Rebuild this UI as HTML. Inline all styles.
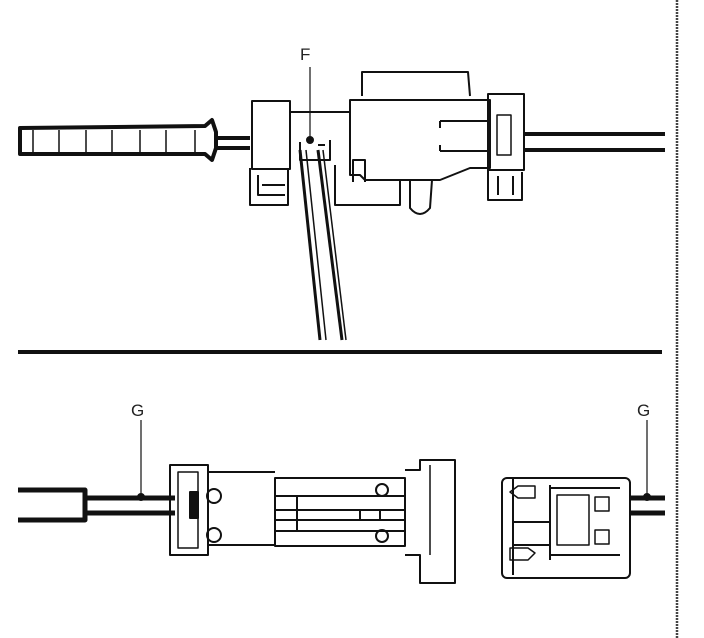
<!DOCTYPE html>
<html><head><meta charset="utf-8"><style>
html,body{margin:0;padding:0;background:#fff;}
svg{display:block}
text{font-family:"Liberation Sans",sans-serif;}
</style></head><body>
<svg width="704" height="638" viewBox="0 0 704 638" xmlns="http://www.w3.org/2000/svg">
<g fill="none" stroke="#111" stroke-width="2" stroke-linejoin="round">
<line x1="677" y1="0" x2="677" y2="638" stroke="#444" stroke-width="2.5" stroke-dasharray="2 1"/>
<line x1="18" y1="352" x2="662" y2="352" stroke-width="4"/>

<path d="M20 128 L205 126 L212 120 L216 132 L216 148 L212 160 L205 154 L20 154 Z" stroke-width="4"/>
<g stroke-width="1.5">
<line x1="33" y1="130" x2="33" y2="152"/><line x1="59" y1="130" x2="59" y2="152"/>
<line x1="86" y1="130" x2="86" y2="152"/><line x1="112" y1="130" x2="112" y2="152"/>
<line x1="140" y1="130" x2="140" y2="152"/><line x1="166" y1="130" x2="166" y2="152"/>
<line x1="195" y1="130" x2="195" y2="152"/>
</g>
<line x1="216" y1="138" x2="250" y2="138" stroke-width="4"/>
<line x1="216" y1="148" x2="250" y2="148" stroke-width="4"/>
<rect x="252" y="101" width="38" height="68"/>
<path d="M250 168 L250 205 L288 205 L288 170 M258 175 L258 195 L285 195 M262 185 L285 185"/>
<text x="300" y="60" font-size="17" fill="#222" stroke="none">F</text>
<line x1="310" y1="67" x2="310" y2="140" stroke-width="1.2"/>
<circle cx="310" cy="140" r="3" fill="#111"/>
<path d="M290 112 L350 112 M300 142 L300 160 L330 160 L330 140 M318 145 L325 145"/>
<path d="M362 96 L362 72 L468 72 L470 96"/>
<path d="M350 100 L490 100 L490 168 L470 168 L440 180 L365 180 L360 175 L350 175 Z"/>
<path d="M440 121 L490 121 M440 151 L490 151 M440 121 L440 128 M440 145 L440 151"/>
<path d="M335 165 L335 205 L400 205 L400 180 M365 182 L365 160 L353 160 L353 182"/>
<path d="M410 180 L410 208 Q420 220 430 208 L432 180"/>
<rect x="488" y="94" width="36" height="76"/>
<path d="M488 170 L488 200 L522 200 L522 172 M498 176 L498 195 M513 176 L513 195"/>
<rect x="497" y="115" width="14" height="40" stroke-width="1.5"/>
<line x1="524" y1="134" x2="665" y2="134" stroke-width="4"/>
<line x1="524" y1="150" x2="665" y2="150" stroke-width="4"/>
<path d="M300 150 L320 340" stroke-width="3"/>
<path d="M306 150 L326 340" stroke-width="1.5"/>
<path d="M318 150 L342 340" stroke-width="3"/>
<path d="M323 150 L346 340" stroke-width="1.5"/>

<text x="131" y="416" font-size="17" fill="#222" stroke="none">G</text>
<line x1="141" y1="420" x2="141" y2="496" stroke-width="1.2"/>
<circle cx="141" cy="497" r="3" fill="#111"/>
<path d="M18 490 L85 490 L85 520 L18 520" stroke-width="5"/>
<line x1="85" y1="498" x2="175" y2="498" stroke-width="5"/>
<line x1="85" y1="513" x2="175" y2="513" stroke-width="5"/>
<rect x="170" y="465" width="38" height="90"/>
<rect x="178" y="472" width="20" height="76" stroke-width="1.5"/>
<rect x="190" y="492" width="8" height="26" fill="#111"/>
<path d="M208 472 L275 472 M208 545 L275 545"/>
<circle cx="214" cy="496" r="7"/>
<circle cx="214" cy="535" r="7"/>
<rect x="275" y="478" width="130" height="68"/>
<path d="M275 496 L405 496 M275 510 L405 510 M275 520 L405 520 M275 531 L405 531 M297 496 L297 531 M360 510 L360 520 M380 510 L380 520"/>
<circle cx="382" cy="490" r="6"/>
<circle cx="382" cy="536" r="6"/>
<path d="M405 470 L420 470 L420 460 L455 460 L455 583 L420 583 L420 555 L405 555"/>
<line x1="430" y1="465" x2="430" y2="555" stroke-width="1.5"/>

<text x="637" y="416" font-size="17" fill="#222" stroke="none">G</text>
<line x1="647" y1="420" x2="647" y2="496" stroke-width="1.2"/>
<circle cx="647" cy="497" r="3" fill="#111"/>
<rect x="502" y="478" width="128" height="100" rx="5"/>
<path d="M513 478 L513 575 M550 488 L620 488 M550 555 L620 555 M513 522 L550 522 M513 545 L550 545 M550 485 L550 560"/>
<rect x="557" y="495" width="32" height="50" stroke-width="1.5"/>
<rect x="595" y="497" width="14" height="14" stroke-width="1.5"/>
<rect x="595" y="530" width="14" height="14" stroke-width="1.5"/>
<path d="M510 492 L518 486 L535 486 L535 498 L518 498 Z" stroke-width="1.5"/>
<path d="M510 548 L528 548 L535 553 L528 560 L510 560 Z" stroke-width="1.5"/>
<line x1="630" y1="498" x2="665" y2="498" stroke-width="5"/>
<line x1="630" y1="513" x2="665" y2="513" stroke-width="5"/>
</g>
</svg>
</body></html>
